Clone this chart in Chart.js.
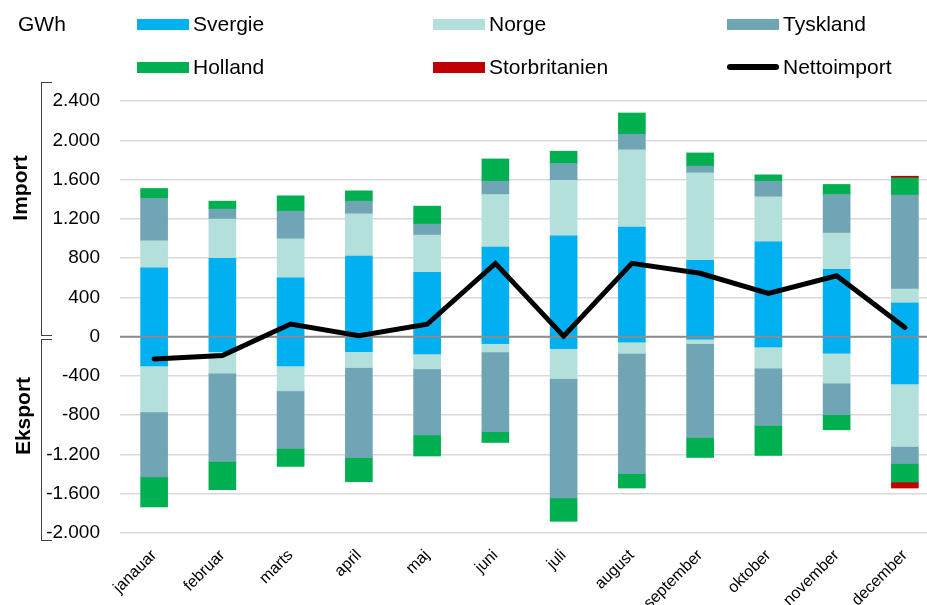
<!DOCTYPE html>
<html>
<head>
<meta charset="utf-8">
<script src="https://cdn.jsdelivr.net/npm/chart.js@4.4.0/dist/chart.umd.min.js"></script>
<style>
  body { margin: 0; width: 927px; height: 605px; overflow: hidden; background: #fff;
         font-family: "Liberation Sans", Arial, sans-serif; position: relative; color: #000; }
  #wrap { position: absolute; left: 0; top: 0; width: 939px; height: 605px; }
  .unit { position: absolute; left: 18px; top: 12px; font-size: 21px; line-height: 24px; }
  .leg { position: absolute; font-size: 21px; line-height: 24px; display: flex; align-items: center; white-space: nowrap; }
  .leg i { display: inline-block; width: 52px; height: 11px; margin-right: 4px; }
  .leg i.line { height: 6px; border-radius: 3px; }
  .side { position: absolute; font-weight: bold; font-size: 21px; white-space: nowrap;
          transform: translate(-50%, -50%) rotate(-90deg); }
  .brace { position: absolute; border: 1.3px solid #404040; border-right: none; width: 10px; }
</style>
</head>
<body>
<div id="wrap"><canvas id="chart" width="939" height="605"></canvas></div>
<div class="unit">GWh</div>
<div id="legend"></div>
<div class="side" style="left:20px; top:188px;">Import</div>
<div class="side" style="left:23px; top:416px;">Eksport</div>
<div class="brace" style="left:41px; top:82px; height:252px;"></div>
<div class="brace" style="left:41px; top:339px; height:200px;"></div>
<script>
// months as written in the source chart
const months = ['janauar', 'februar', 'marts', 'april', 'maj', 'juni', 'juli', 'august', 'september', 'oktober', 'november', 'december'];

// import (GWh, positive); null = no trade that month
const sverigeImport = [702, 797, 600, 821, 655, 912, 1027, 1116, 777, 966, 685, 343];
const norgeImport = [274, 400, 397, 430, 379, 536, 564, 786, 891, 458, 370, 142];
const tysklandImport = [432, 102, 281, 129, 112, 135, 172, 159, 68, 159, 393, 956];
const hollandImport = [101, 81, 156, 105, 183, 227, 126, 217, 135, 65, 102, 176];
const storbritanienImport = [null, null, null, null, null, null, null, null, null, null, null, 17];

// eksport (GWh, negative)
const sverigeEksport = [-298, -153, -298, -153, -176, -71, -122, -55, -26, -105, -169, -481];
const norgeEksport = [-468, -219, -254, -162, -152, -85, -305, -116, -45, -216, -305, -638];
const tysklandEksport = [-664, -899, -587, -919, -672, -813, -1216, -1225, -956, -584, -322, -173];
const hollandEksport = [-305, -288, -183, -244, -216, -109, -238, -146, -204, -305, -153, -189];
const storbritanienEksport = [null, null, null, null, null, null, null, null, null, null, null, -61];

const nettoimport = [-227, -193, 129, 10, 126, 746, 5, 746, 645, 441, 620, 92];

const yTicks = [-2000, -1600, -1200, -800, -400, 0, 400, 800, 1200, 1600, 2000, 2400];

const countries = [
  { label: 'Svergie', color: '#00B0F0', imp: sverigeImport, exp: sverigeEksport },
  { label: 'Norge', color: '#B3E0DB', imp: norgeImport, exp: norgeEksport },
  { label: 'Tyskland', color: '#70A5B5', imp: tysklandImport, exp: tysklandEksport },
  { label: 'Holland', color: '#00B050', imp: hollandImport, exp: hollandEksport },
  { label: 'Storbritanien', color: '#C00000', imp: storbritanienImport, exp: storbritanienEksport }
];

const fmt = v => (v < 0 ? '-' : '') + String(Math.abs(v)).replace(/\B(?=(\d{3})+(?!\d))/g, '.');

const barSets = [];
countries.forEach(c => {
  barSets.push({ type: 'bar', label: c.label, data: c.imp, backgroundColor: c.color, stack: 'trade', order: 1, barThickness: 27 });
});
countries.forEach(c => {
  barSets.push({ type: 'bar', label: c.label + ' eksport', data: c.exp, backgroundColor: c.color, stack: 'trade', order: 1, barThickness: 27 });
});

// zero axis sits on top of the bars but under the net line
const zeroLine = {
  id: 'zeroLine',
  beforeDatasetDraw(chart, args) {
    if (args.meta.type !== 'line') return;
    const y = chart.scales.y.getPixelForValue(0);
    const ctx = chart.ctx;
    ctx.save();
    ctx.strokeStyle = '#8c8c8c';
    ctx.lineWidth = 2;
    ctx.beginPath();
    ctx.moveTo(chart.chartArea.left, y);
    ctx.lineTo(chart.chartArea.right, y);
    ctx.stroke();
    ctx.restore();
  }
};

const chart = new Chart(document.getElementById('chart'), {
  data: {
    labels: months,
    datasets: [
      ...barSets,
      { type: 'line', label: 'Nettoimport', data: nettoimport, borderColor: '#000', borderWidth: 5,
        pointRadius: 0, tension: 0, stack: 'net', order: 0, borderCapStyle: 'round', borderJoinStyle: 'miter' }
    ]
  },
  options: {
    responsive: false,
    animation: false,
    skipNull: true,
    layout: { padding: { top: 101, left: 0, right: 0, bottom: 0 } },
    plugins: { legend: { display: false }, tooltip: { enabled: false } },
    scales: {
      x: {
        stacked: true,
        grid: { display: false, drawTicks: false },
        border: { display: false },
        ticks: { color: '#000', font: { family: '"Liberation Sans", Arial', size: 16 }, maxRotation: 45, minRotation: 45, padding: 13 },
        afterFit: s => { s.height = 72; }
      },
      y: {
        stacked: true,
        min: -2000,
        max: 2400,
        afterBuildTicks: s => { s.ticks = yTicks.map(v => ({ value: v })); },
        grid: { color: '#d9d9d9', lineWidth: 1.5, drawTicks: false },
        border: { display: false },
        ticks: { color: '#000', font: { family: '"Liberation Sans", Arial', size: 19 }, padding: 20, callback: v => fmt(v) },
        afterFit: s => { s.width = 120; }
      }
    }
  },
  plugins: [zeroLine]
});

// legend built from the chart's datasets: three columns, two rows
const legendPos = [[137, 24], [433, 24], [727, 24], [137, 67], [433, 67], [727, 67]];
const legendItems = chart.data.datasets.filter(d => !d.label.endsWith('eksport'));
const legend = document.getElementById('legend');
legendItems.forEach((d, i) => {
  const el = document.createElement('div');
  el.className = 'leg';
  el.style.left = legendPos[i][0] + 'px';
  el.style.top = (legendPos[i][1] - 12) + 'px';
  const sw = document.createElement('i');
  if (d.type === 'line') { sw.className = 'line'; sw.style.background = d.borderColor; }
  else sw.style.background = d.backgroundColor;
  el.appendChild(sw);
  el.appendChild(document.createTextNode(d.label));
  legend.appendChild(el);
});
</script>
</body>
</html>
